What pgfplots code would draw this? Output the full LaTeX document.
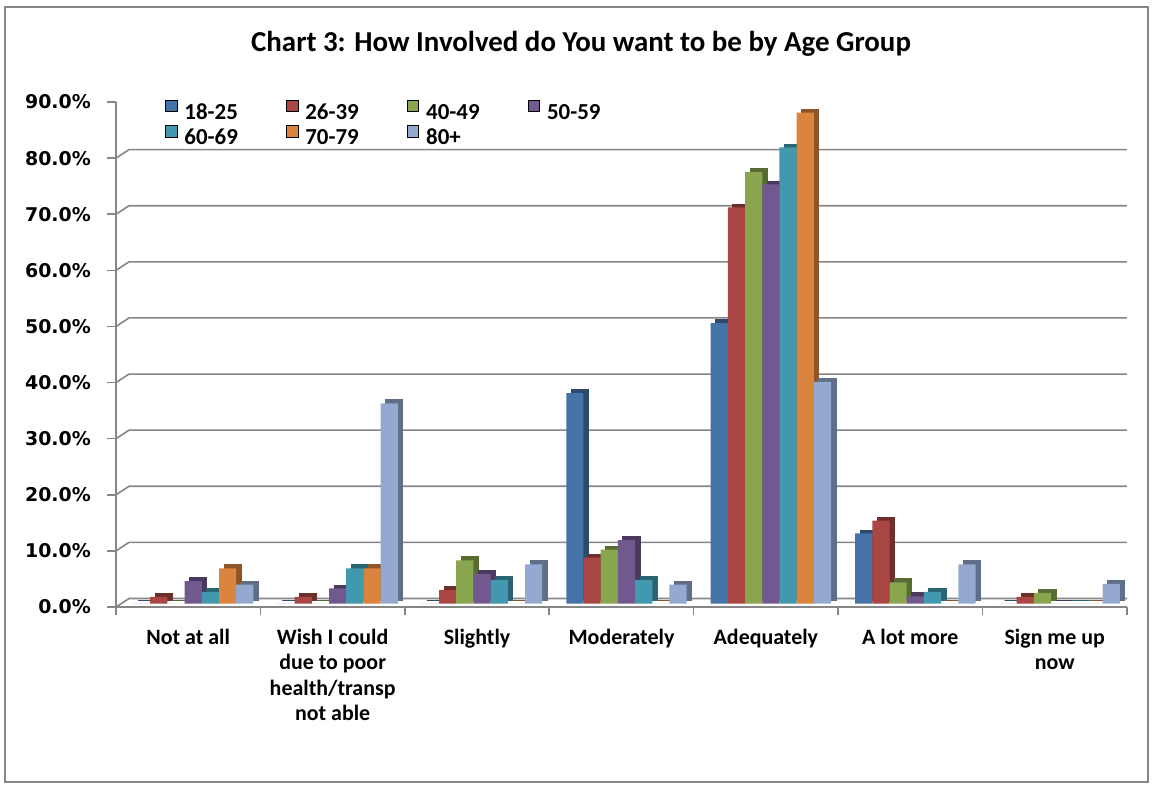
\documentclass[border=0pt]{standalone}
\usepackage{pgfplots}
\pgfplotsset{compat=1.18}
\usepackage{pgfplotstable}
\usepackage{fontspec}
\setmainfont{Carlito}
\newfontfamily\tickfont{DejaVu Sans}

\definecolor{c1}{RGB}{69,114,167}
\definecolor{c2}{RGB}{170,70,67}
\definecolor{c3}{RGB}{137,165,78}
\definecolor{c4}{RGB}{113,88,143}
\definecolor{c5}{RGB}{65,152,175}
\definecolor{c6}{RGB}{219,132,61}
\definecolor{c7}{RGB}{147,169,207}
\definecolor{gridc}{RGB}{134,134,134}

% share of each age group (%) per answer
\pgfplotstableread{
x  a    b    c    d    e    f    g
0  0    1.2  0    4.0  2.1  6.3  3.4
1  0    1.2  0    2.7  6.3  6.3  35.7
2  0    2.4  7.7  5.3  4.2  0    7.0
3  37.5 8.2  9.6  11.3 4.2  0    3.4
4  50.0 70.6 76.9 74.7 81.3 87.5 39.5
5  12.5 14.8 3.8  1.3  2.1  0    7.0
6  0    1.2  1.9  0    0    0    3.5
}\datatable

% one column: a darker copy behind (side and top faces), then the front face
\newcommand\column[4]{%
  \addplot[ybar, bar width=17.2bp, bar shift=#4bp, yshift=6.8bp,
    fill=#1!65!black, draw=#1!65!black, line width=1bp, forget plot]
    table[x=x, y=#2]{\datatable};
  \addplot[ybar, bar width=17.2bp, bar shift=#3bp, yshift=3.4bp,
    fill=#1, draw=none, forget plot]
    table[x=x, y=#2]{\datatable};
}

\begin{document}
\begin{tikzpicture}
\useasboundingbox (0,0) rectangle (1153bp,785bp);
\fill[white] (0,0) rectangle (1153bp,785bp);
\draw[gridc, line width=1.6bp] (5bp,3bp) rectangle (1148bp,778bp);

\node[font=\fontsize{29}{33}\selectfont\bfseries, anchor=base] at (581bp,733bp)
  {Chart 3: How Involved do You want to be by Age Group};

\begin{axis}[
  at={(116bp,178bp)}, anchor=south west,
  scale only axis, width=1011bp, height=505bp,
  xmin=-0.5, xmax=6.5, ymin=0, ymax=90,
  axis x line*=bottom, axis y line*=left,
  axis line style={gridc, line width=1.6bp},
  tick align=outside,
  tick style={gridc, line width=1.6bp},
  major tick length=9bp, minor tick length=8bp,
  xtick={0,...,6},
  major x tick style={draw=none},
  minor xtick={-0.5,0.5,...,6.5},
  xticklabels={Not at all, {Wish I could\\due to poor\\health/transp\\not able},
    Slightly, Moderately, Adequately, A lot more, {Sign me up\\now}},
  xticklabel style={font=\fontsize{22}{25.5}\selectfont\bfseries,
    align=center, anchor=north, inner sep=0pt, yshift=-13bp},
  ytick={0,10,...,90},
  yticklabels={0.0\%,10.0\%,20.0\%,30.0\%,40.0\%,50.0\%,60.0\%,70.0\%,80.0\%,90.0\%},
  yticklabel style={font=\tickfont\bfseries\fontsize{19}{22}\selectfont,
    anchor=east, inner sep=0pt, xshift=-16bp},
  legend columns=4,
  legend cell align=left,
  legend image code/.code={\fill[#1] (0bp,1.5bp) rectangle (11.7bp,13.3bp);},
  legend style={at={(0.0485,1.0046)}, anchor=north west, draw=none, fill=none,
    inner sep=0pt, outer sep=0pt,
    font=\fontsize{23}{27}\selectfont\bfseries,
    nodes={inner sep=0pt, text height=16bp, text depth=4bp},
    row sep=2bp,
    /tikz/every odd column/.append style={column sep=7.3bp},
    /tikz/every even column/.append style={column sep=48bp}},
]
% back wall grid and left wall edges
\pgfplotsinvokeforeach{0,10,20,30,40,50,60,70,80,90}{
  \draw[gridc, line width=1.6bp] (axis cs:-0.5,#1)
    -- ([shift={(13bp,8.5bp)}]axis cs:-0.5,#1)
    -- ([shift={(13bp,8.5bp)}]axis cs:6.5,#1);
}
\draw[gridc, line width=1.6bp] (axis cs:6.5,0) -- ([shift={(13bp,8.5bp)}]axis cs:6.5,0);

\column{c1}{a}{-46.6}{-41.6}
\column{c2}{b}{-29.4}{-24.4}
\column{c3}{c}{-12.2}{-7.2}
\column{c4}{d}{5}{10}
\column{c5}{e}{22.2}{27.2}
\column{c6}{f}{39.4}{44.4}
\column{c7}{g}{56.6}{61.6}

\addlegendimage{fill=c1}\addlegendentry{18-25}
\addlegendimage{fill=c2}\addlegendentry{26-39}
\addlegendimage{fill=c3}\addlegendentry{40-49}
\addlegendimage{fill=c4}\addlegendentry{50-59}
\addlegendimage{fill=c5}\addlegendentry{60-69}
\addlegendimage{fill=c6}\addlegendentry{70-79}
\addlegendimage{fill=c7}\addlegendentry{80+}
\end{axis}
\end{tikzpicture}
\end{document}
